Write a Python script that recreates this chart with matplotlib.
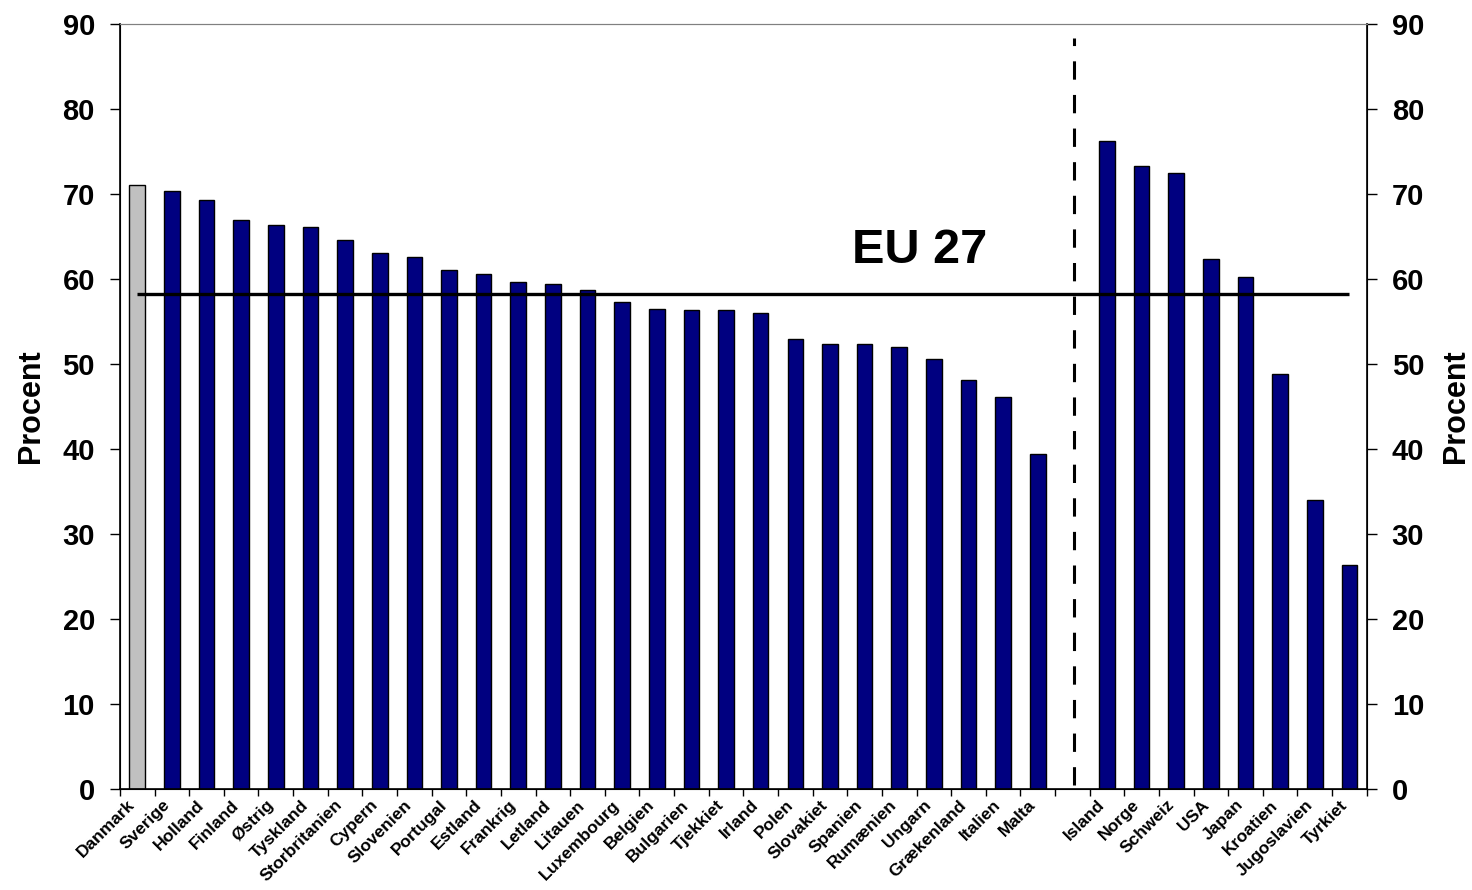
import numpy as np
import matplotlib
matplotlib.use("Agg")
import matplotlib.pyplot as plt
import matplotlib.transforms as mtransforms
from matplotlib.ticker import FixedLocator

plt.rcParams["font.family"] = ["Liberation Sans", "DejaVu Sans"]
plt.rcParams["font.weight"] = "bold"

eu_countries = ["Danmark", "Sverige", "Holland", "Finland", "Østrig", "Tyskland",
                "Storbritanien", "Cypern", "Slovenien", "Portugal", "Estland",
                "Frankrig", "Letland", "Litauen", "Luxembourg", "Belgien",
                "Bulgarien", "Tjekkiet", "Irland", "Polen", "Slovakiet", "Spanien",
                "Rumænien", "Ungarn", "Grækenland", "Italien", "Malta"]
eu_values = [71.1, 70.4, 69.3, 66.9, 66.4, 66.1, 64.6, 63.1, 62.6, 61.1, 60.6,
             59.7, 59.4, 58.7, 57.3, 56.5, 56.4, 56.3, 56.0, 53.0, 52.3, 52.3,
             52.0, 50.6, 48.1, 46.1, 39.4]
other_countries = ["Island", "Norge", "Schweiz", "USA", "Japan", "Kroatien",
                   "Jugoslavien", "Tyrkiet"]
other_values = [76.2, 73.3, 72.5, 62.4, 60.2, 48.8, 34.0, 26.3]
eu27_avg = 58.2
yticks = [0, 10, 20, 30, 40, 50, 60, 70, 80, 90]

n_eu = len(eu_countries)
x_eu = np.arange(n_eu)
x_other = n_eu + 1 + np.arange(len(other_countries))
sep_x = n_eu

fig = plt.figure(figsize=(14.72, 8.9), dpi=100)
ax = fig.add_axes([0.0815, 0.1135, 0.847, 0.8595])

eu_colors = ["#C0C0C0"] + ["#000080"] * (n_eu - 1)
ax.bar(x_eu, eu_values, width=0.45, color=eu_colors, edgecolor="black", linewidth=1.0, zorder=2)
ax.bar(x_other, other_values, width=0.45, color="#000080", edgecolor="black", linewidth=1.0, zorder=2)

# EU 27 average line and separator
ax.hlines(eu27_avg, x_eu[0], x_other[-1], color="black", linewidth=2.4, zorder=3)
ax.vlines(sep_x + 0.05, 0.5, 88.4, color="black", linewidth=2.2, linestyles=(0, (6, 5)), zorder=3)
ax.text(22.6, 63.3, "EU 27", fontsize=35, fontweight="bold", ha="center", va="center")

ax.set_xlim(-0.5, x_other[-1] + 0.5)
ax.set_ylim(0, 90)
ax.set_yticks(yticks)
ax.tick_params(axis="y", labelsize=21, length=7, width=1, pad=11, direction="out")

labels = eu_countries + other_countries
positions = list(x_eu) + list(x_other)
ax.set_xticks(positions)
ax.set_xticklabels(labels, rotation=45, ha="right", rotation_mode="anchor", fontsize=12.5)
ax.tick_params(axis="x", which="major", length=0, pad=6)
shift = mtransforms.ScaledTranslation(-0.10, 0.0, fig.dpi_scale_trans)
for lbl in ax.get_xticklabels():
    lbl.set_transform(lbl.get_transform() + shift)
ax.xaxis.set_minor_locator(FixedLocator(np.arange(-0.5, x_other[-1] + 1, 1.0)))
ax.tick_params(axis="x", which="minor", length=5, width=1, direction="out")
ax.set_ylabel("Procent", fontsize=22, fontweight="bold", labelpad=12)

ax.spines["top"].set_color("#808080")
for side in ["left", "right", "bottom"]:
    ax.spines[side].set_linewidth(1.2)

ax2 = ax.twinx()
ax2.set_ylim(0, 90)
ax2.set_yticks(yticks)
ax2.tick_params(axis="y", labelsize=21, length=7, width=1, pad=11, direction="out")
ax2.set_ylabel("Procent", fontsize=22, fontweight="bold", labelpad=12)
ax2.spines["top"].set_color("#808080")

fig.savefig("out.png", dpi=100)
